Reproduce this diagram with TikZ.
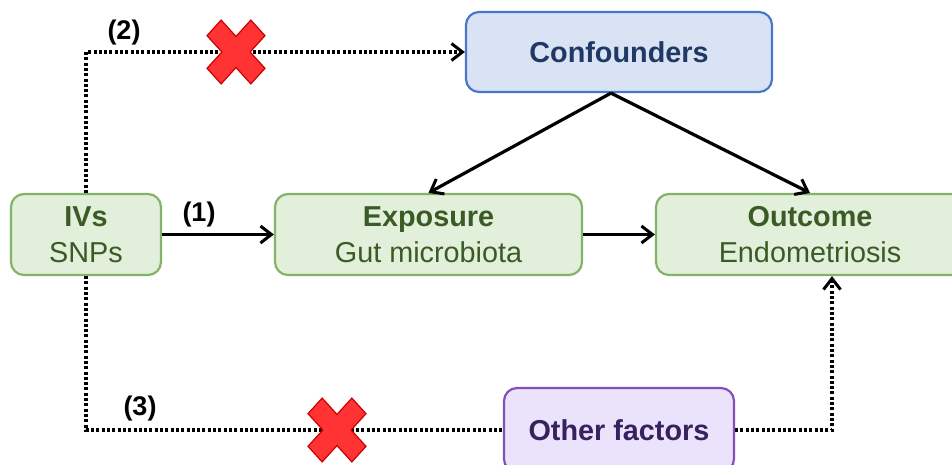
\documentclass[tikz,border=0pt]{standalone}
\usepackage{fontspec}
\setmainfont{Liberation Sans}
\usetikzlibrary{arrows.meta}
\definecolor{gfill}{HTML}{E2EFDA}
\definecolor{gline}{HTML}{82B366}
\definecolor{gtext}{HTML}{3B5B26}
\definecolor{bfill}{HTML}{DAE3F3}
\definecolor{bline}{HTML}{4A78C8}
\definecolor{btext}{HTML}{1F3864}
\definecolor{pfill}{HTML}{EBE2FC}
\definecolor{pline}{HTML}{8350BA}
\definecolor{ptext}{HTML}{38215F}
\definecolor{xfill}{HTML}{FF3333}
\definecolor{xline}{HTML}{CC0000}
\tikzset{
  box/.style={rounded corners=13pt, line width=2.2pt, align=center, inner sep=0pt,
    font=\fontsize{28.8}{36}\selectfont},
  gbox/.style={box, draw=gline, fill=gfill, text=gtext},
  bbox/.style={box, draw=bline, fill=bfill, text=btext},
  pbox/.style={box, draw=pline, fill=pfill, text=ptext},
  conn/.style={line width=3.2pt, -{Straight Barb[length=11pt,width=17pt,line width=3pt]}},
  dotconn/.style={conn, dash pattern=on 3pt off 2.3pt},
  dotline/.style={line width=3.2pt, dash pattern=on 3pt off 2.3pt},
  lbl/.style={font=\fontsize{27}{30}\selectfont\bfseries, inner sep=0pt},
  pics/redx/.style={code={
    \fill[xfill, draw=xline, line width=1.2pt, yscale=1.1, rotate=45]
      (10,10) -- (31,10) -- (31,-10) -- (10,-10) -- (10,-31) -- (-10,-31) -- (-10,-10)
      -- (-31,-10) -- (-31,10) -- (-10,10) -- (-10,31) -- (10,31) -- cycle;
  }}
}
\begin{document}
\begin{tikzpicture}[x=1pt, y=-1pt]
\useasboundingbox (0,0) rectangle (952,465);
\node[gbox, minimum width=150pt, minimum height=81pt] (ivs) at (86,234.5) {\textbf{IVs}\\SNPs};
\node[gbox, minimum width=307pt, minimum height=81pt] (exp) at (428.5,234.5) {\textbf{Exposure}\\Gut microbiota};
\node[gbox, minimum width=308pt, minimum height=81pt] (out) at (810,234.5) {\textbf{Outcome}\\Endometriosis};
\node[bbox, minimum width=306pt, minimum height=80pt] (conf) at (619,52) {\textbf{Confounders}};
\node[pbox, minimum width=230pt, minimum height=84pt] (oth) at (619,430) {\textbf{Other factors}};

\draw[conn] (ivs.east) -- (exp.west);
\draw[conn] (exp.east) -- (out.west);
\draw[conn] ([xshift=-8pt]conf.south) -- (exp.north);
\draw[conn] ([xshift=-8pt]conf.south) -- (out.north);
\draw[dotconn] (ivs.north) |- (conf.west);
\draw[dotline] (ivs.south) |- (oth.west);
\draw[dotconn] (oth.east) -| ([xshift=22pt]out.south);

\node[lbl] (l1) at (199,215) {(1)};
\node[lbl] (l2) at (124,33) {(2)};
\node[lbl] (l3) at (140,409) {(3)};

\pic at (236,52) {redx};
\pic at (337,430) {redx};
\end{tikzpicture}
\end{document}
